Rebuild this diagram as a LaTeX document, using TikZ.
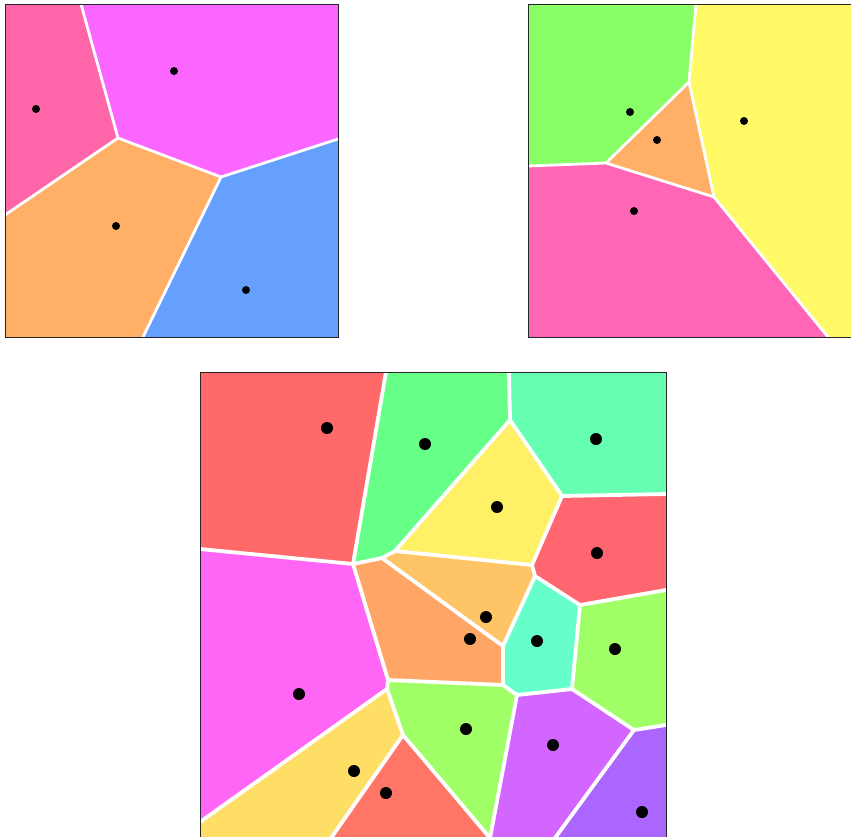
\documentclass[tikz,border=0pt]{standalone}
\usepackage{tikz}
\usetikzlibrary{calc}
\definecolor{cellpink}{RGB}{255,102,170}
\definecolor{cellmagenta}{RGB}{250,102,255}
\definecolor{cellorange}{RGB}{255,176,102}
\definecolor{cellblue}{RGB}{102,160,255}
\definecolor{cellgreen}{RGB}{136,255,102}
\definecolor{cellyellow}{RGB}{255,250,102}
\definecolor{cellrose}{RGB}{255,102,182}
\definecolor{cRedA}{RGB}{255,105,105}
\definecolor{cGreenA}{RGB}{102,255,136}
\definecolor{cMintA}{RGB}{102,255,178}
\definecolor{cYellowA}{RGB}{255,240,102}
\definecolor{cRedB}{RGB}{255,102,112}
\definecolor{cPeach}{RGB}{255,196,102}
\definecolor{cOrange}{RGB}{255,166,102}
\definecolor{cMintB}{RGB}{102,255,204}
\definecolor{cLime}{RGB}{160,255,102}
\definecolor{cMagenta}{RGB}{255,102,245}
\definecolor{cPurple}{RGB}{210,102,255}
\definecolor{cYellowB}{RGB}{255,222,102}
\definecolor{cRedC}{RGB}{255,118,102}
\definecolor{cViolet}{RGB}{170,102,255}
\tikzset{
  frame/.style={draw=black!85,line width=1pt},
  edge/.style={draw=white,line width=2.8pt,line cap=round,line join=round},
  bigedge/.style={draw=white,line width=3.8pt,line cap=round,line join=round},
  site/.style={fill=black},
}

\begin{document}
\begin{tikzpicture}[x=1pt,y=-1pt]
  \useasboundingbox (0,0) rectangle (851,836);

  % top left diagram
  \coordinate (a1) at (81,4);   \coordinate (a2) at (118,138);
  \coordinate (a3) at (5,215);  \coordinate (a4) at (221,177);
  \coordinate (a5) at (338,139);\coordinate (a6) at (143,337);
  \begin{scope}
    \clip (5,4) rectangle (338,337);
    \fill[cellpink] (5,4) -- (a1) -- (a2) -- (a3) -- cycle;
    \fill[cellmagenta] (a1) -- (338,4) -- (a5) -- (a4) -- (a2) -- cycle;
    \fill[cellorange] (a3) -- (a2) -- (a4) -- (a6) -- (5,337) -- cycle;
    \fill[cellblue] (a4) -- (a5) -- (338,337) -- (a6) -- cycle;
    \draw[edge] (a1) -- (a2) -- (a3) (a2) -- (a4) -- (a5) (a4) -- (a6);
  \end{scope}
  \draw[frame] (5,4) rectangle (338,337);
  \foreach \p in {(36,109),(174,71),(116,226),(246,290)}
    \fill[site] \p circle (4);

  % top right diagram
  \coordinate (b1) at (696,4);  \coordinate (b2) at (689,82);
  \coordinate (b3) at (606,163);\coordinate (b4) at (528,166);
  \coordinate (b5) at (714,197);\coordinate (b6) at (828,337);
  \begin{scope}
    \clip (528,4) rectangle (861,337);
    \fill[cellgreen] (528,4) -- (b1) -- (b2) -- (b3) -- (b4) -- cycle;
    \fill[cellyellow] (b1) -- (861,4) -- (861,337) -- (b6) -- (b5) -- (b2) -- cycle;
    \fill[cellorange] (b2) -- (b5) -- (b3) -- cycle;
    \fill[cellrose] (b4) -- (b3) -- (b5) -- (b6) -- (528,337) -- cycle;
    \draw[edge] (b1) -- (b2) -- (b3) -- (b4) (b2) -- (b5) -- (b3) (b5) -- (b6);
  \end{scope}
  \draw[frame] (528,4) rectangle (861,337);
  \foreach \p in {(630,112),(657,140),(744,121),(634,211)}
    \fill[site] \p circle (4);

  % bottom diagram
  \coordinate (t1) at (386,372); \coordinate (t2) at (509,372);
  \coordinate (L1) at (200,549); \coordinate (L2) at (200,822);
  \coordinate (R1) at (666,494); \coordinate (R2) at (666,590);
  \coordinate (R3) at (666,725);
  \coordinate (B1) at (331,838); \coordinate (B2) at (490,838);
  \coordinate (B3) at (555,838);
  \coordinate (va) at (353,564); \coordinate (vc) at (382,558);
  \coordinate (vd) at (395,551); \coordinate (ve) at (510,420);
  \coordinate (vf) at (562,496); \coordinate (vg) at (532,565);
  \coordinate (vi) at (535,576); \coordinate (vh) at (580,605);
  \coordinate (vj) at (503,646); \coordinate (vn) at (503,685);
  \coordinate (vl) at (572,689); \coordinate (vm) at (517,695);
  \coordinate (vo) at (388,680); \coordinate (vp) at (387,689);
  \coordinate (vq) at (403,735); \coordinate (vs) at (634,730);
  \begin{scope}
    \clip (200,372) rectangle (666,838);
    \fill[cRedA] (200,372) -- (t1) -- (va) -- (L1) -- cycle;
    \fill[cGreenA] (t1) -- (t2) -- (ve) -- (vd) -- (vc) -- (va) -- cycle;
    \fill[cMintA] (t2) -- (666,372) -- (R1) -- (vf) -- (ve) -- cycle;
    \fill[cYellowA] (ve) -- (vf) -- (vg) -- (vd) -- cycle;
    \fill[cRedB] (vf) -- (R1) -- (R2) -- (vh) -- (vi) -- (vg) -- cycle;
    \fill[cPeach] (vd) -- (vg) -- (vi) -- (vj) -- (vc) -- cycle;
    \fill[cOrange] (va) -- (vc) -- (vj) -- (vn) -- (vo) -- cycle;
    \fill[cMintB] (vi) -- (vh) -- (vl) -- (vm) -- (vn) -- (vj) -- cycle;
    \fill[cLime] (vh) -- (R2) -- (R3) -- (vs) -- (vl) -- cycle;
    \fill[cMagenta] (L1) -- (va) -- (vo) -- (vp) -- (L2) -- cycle;
    \fill[cLime] (vo) -- (vn) -- (vm) -- (B2) -- (vq) -- (vp) -- cycle;
    \fill[cPurple] (vm) -- (vl) -- (vs) -- (B3) -- (B2) -- cycle;
    \fill[cYellowB] (L2) -- (vp) -- (vq) -- (B1) -- (200,838) -- cycle;
    \fill[cRedC] (vq) -- (B2) -- (B1) -- cycle;
    \fill[cViolet] (vs) -- (R3) -- (666,838) -- (B3) -- cycle;
    \draw[bigedge] (t1) -- (va) -- (L1) (va) -- (vc) -- (vd) -- (ve) -- (t2)
      (ve) -- (vf) -- (R1) (vf) -- (vg) -- (vd) (vg) -- (vi) -- (vh) -- (R2)
      (vi) -- (vj) -- (vc) (vj) -- (vn) -- (vo) -- (va)
      (vh) -- (vl) -- (vm) -- (vn) (vl) -- (vs) -- (R3) (vs) -- (B3)
      (vm) -- (B2) (vo) -- (vp) -- (L2) (vp) -- (vq) -- (B1) (vq) -- (B2);
  \end{scope}
  \draw[frame] (200,372) rectangle (666,838);
  \foreach \p in {(327,428),(425,444),(596,439),(497,507),(597,553),
                  (486,617),(470,639),(537,641),(615,649),(299,694),
                  (466,729),(553,745),(354,771),(386,793),(642,812)}
    \fill[site] \p circle (6);
\end{tikzpicture}
\end{document}
